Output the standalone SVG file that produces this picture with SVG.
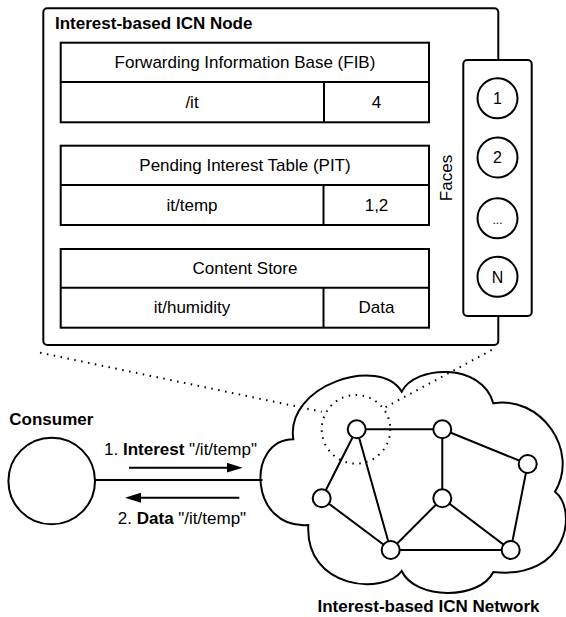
<svg xmlns="http://www.w3.org/2000/svg" width="566" height="617" viewBox="0 0 566 617">
  <style>
    text { font-family: "Liberation Sans", Arial, Helvetica, sans-serif; font-size: 17px; fill: #000; }
    .b { font-weight: bold; }
    .c { text-anchor: middle; }
    .box { fill: #fff; stroke: #000; stroke-width: 2; }
    .ln { fill: none; stroke: #000; stroke-width: 2; }
    .dot { fill: none; stroke: #000; stroke-width: 2; stroke-dasharray: 1.5 5.5; }
    .face text { font-size: 16px; }
    .nn { fill: #fff; stroke: #000; stroke-width: 2; }
  </style>
  <defs>
    <marker id="arrow" markerUnits="userSpaceOnUse" viewBox="0 0 16 10" markerWidth="16" markerHeight="10" refX="8" refY="5" orient="auto">
      <path d="M0,0 L16,5 L0,10 z" fill="#000"/>
    </marker>
  </defs>

  <!-- ICN node container -->
  <g id="icn-node">
    <rect class="box" x="43.3" y="8.3" width="455" height="336.7" rx="4"/>
    <text class="b" x="55" y="29">Interest-based ICN Node</text>
  </g>

  <!-- Forwarding Information Base -->
  <g id="fib">
    <rect class="box" x="60.7" y="42.7" width="368.3" height="79.6"/>
    <path class="ln" d="M60.7,82 H429 M324,82 V122.3"/>
    <text class="c" x="245" y="67.8">Forwarding Information Base (FIB)</text>
    <text class="c" x="192" y="107.6">/it</text>
    <text class="c" x="376.5" y="107.6">4</text>
  </g>

  <!-- Pending Interest Table -->
  <g id="pit">
    <rect class="box" x="60.7" y="145.7" width="368.3" height="79.3"/>
    <path class="ln" d="M60.7,185 H429 M323.5,185 V225"/>
    <text class="c" x="245" y="170.8">Pending Interest Table (PIT)</text>
    <text class="c" x="192" y="210.5">it/temp</text>
    <text class="c" x="376.5" y="210.5">1,2</text>
  </g>

  <!-- Content Store -->
  <g id="content-store">
    <rect class="box" x="60.7" y="249" width="368.3" height="78.7"/>
    <path class="ln" d="M60.7,287.7 H429 M323.5,287.7 V327.7"/>
    <text class="c" x="245" y="273.8">Content Store</text>
    <text class="c" x="192" y="313.2">it/humidity</text>
    <text class="c" x="376.5" y="313.2">Data</text>
  </g>

  <!-- Faces -->
  <g id="faces" class="face">
    <rect class="box" x="463.3" y="60" width="68.4" height="256" rx="4"/>
    <text style="font-size:17px" class="c" transform="translate(451.5,178) rotate(-90)">Faces</text>
    <g id="face-1"><circle class="nn" cx="497.5" cy="98.3" r="20"/><text class="c" x="497.5" y="104">1</text></g>
    <g id="face-2"><circle class="nn" cx="497.5" cy="157.5" r="20"/><text class="c" x="497.5" y="163.2">2</text></g>
    <g id="face-more"><circle class="nn" cx="497.5" cy="218.3" r="20"/><text class="c" x="497.5" y="224" style="font-size:12px">...</text></g>
    <g id="face-n"><circle class="nn" cx="497.5" cy="276.8" r="20"/><text class="c" x="497.5" y="282.5">N</text></g>
  </g>

  <!-- Consumer -->
  <g id="consumer">
    <text class="b" x="9.3" y="425">Consumer</text>
    <circle class="box" cx="51.7" cy="481" r="43.3"/>
  </g>

  <!-- ICN network cloud -->
  <g id="network">
    <path class="box" d="M293.3,439.3
      C285,385 380,355 401.7,391.7
      C415,365 482,362 493.3,403.3
      C540,395 580,450 555,491.7
      C578,510 568,580 493.3,572
      C480,600 415,600 401.7,571
      C385,595 305,590 308.3,525
      C250,530 245,440 293.3,439.3 Z"/>
    <text class="b c" x="428.5" y="612">Interest-based ICN Network</text>
  </g>

  <!-- Connectors -->
  <g id="connectors">
    <line class="ln" x1="95" y1="480" x2="262.5" y2="480"/>
    <line class="ln" x1="129" y1="467.7" x2="234.7" y2="467.7" marker-end="url(#arrow)"/>
    <text class="c" x="180.5" y="455">1. <tspan class="b">Interest</tspan> "/it/temp"</text>
    <line class="ln" x1="239.3" y1="497.7" x2="133" y2="497.7" marker-end="url(#arrow)"/>
    <text class="c" x="182" y="524">2. <tspan class="b">Data</tspan> "/it/temp"</text>

    <!-- zoom-in guides from the node box to its place in the network -->
    <line class="dot" x1="40" y1="352.7" x2="321.7" y2="411.7"/>
    <line class="dot" x1="491.7" y1="350" x2="383.3" y2="408.3"/>

    <!-- network links -->
    <path class="ln" d="M356.7,429.3 L442.3,429.3
      M356.7,429.3 L321.7,498.3
      M356.7,429.3 L390.7,550
      M442.3,429.3 L442.3,498.3
      M442.3,429.3 L527.7,464
      M527.7,464 L510.7,550
      M321.7,498.3 L390.7,550
      M390.7,550 L442.3,498.3
      M442.3,498.3 L510.7,550
      M390.7,550 L510.7,550"/>
  </g>

  <!-- network routers -->
  <g id="router-a"><circle class="nn" cx="356.7" cy="429.3" r="9"/></g>
  <g id="router-b"><circle class="nn" cx="442.3" cy="429.3" r="9"/></g>
  <g id="router-c"><circle class="nn" cx="527.7" cy="464" r="9"/></g>
  <g id="router-d"><circle class="nn" cx="321.7" cy="498.3" r="9"/></g>
  <g id="router-e"><circle class="nn" cx="442.3" cy="498.3" r="9"/></g>
  <g id="router-f"><circle class="nn" cx="390.7" cy="550" r="9"/></g>
  <g id="router-g"><circle class="nn" cx="510.7" cy="550" r="9"/></g>

  <!-- highlighted router -->
  <g id="focus">
    <circle class="dot" cx="356" cy="429.3" r="34.3"/>
  </g>
</svg>
